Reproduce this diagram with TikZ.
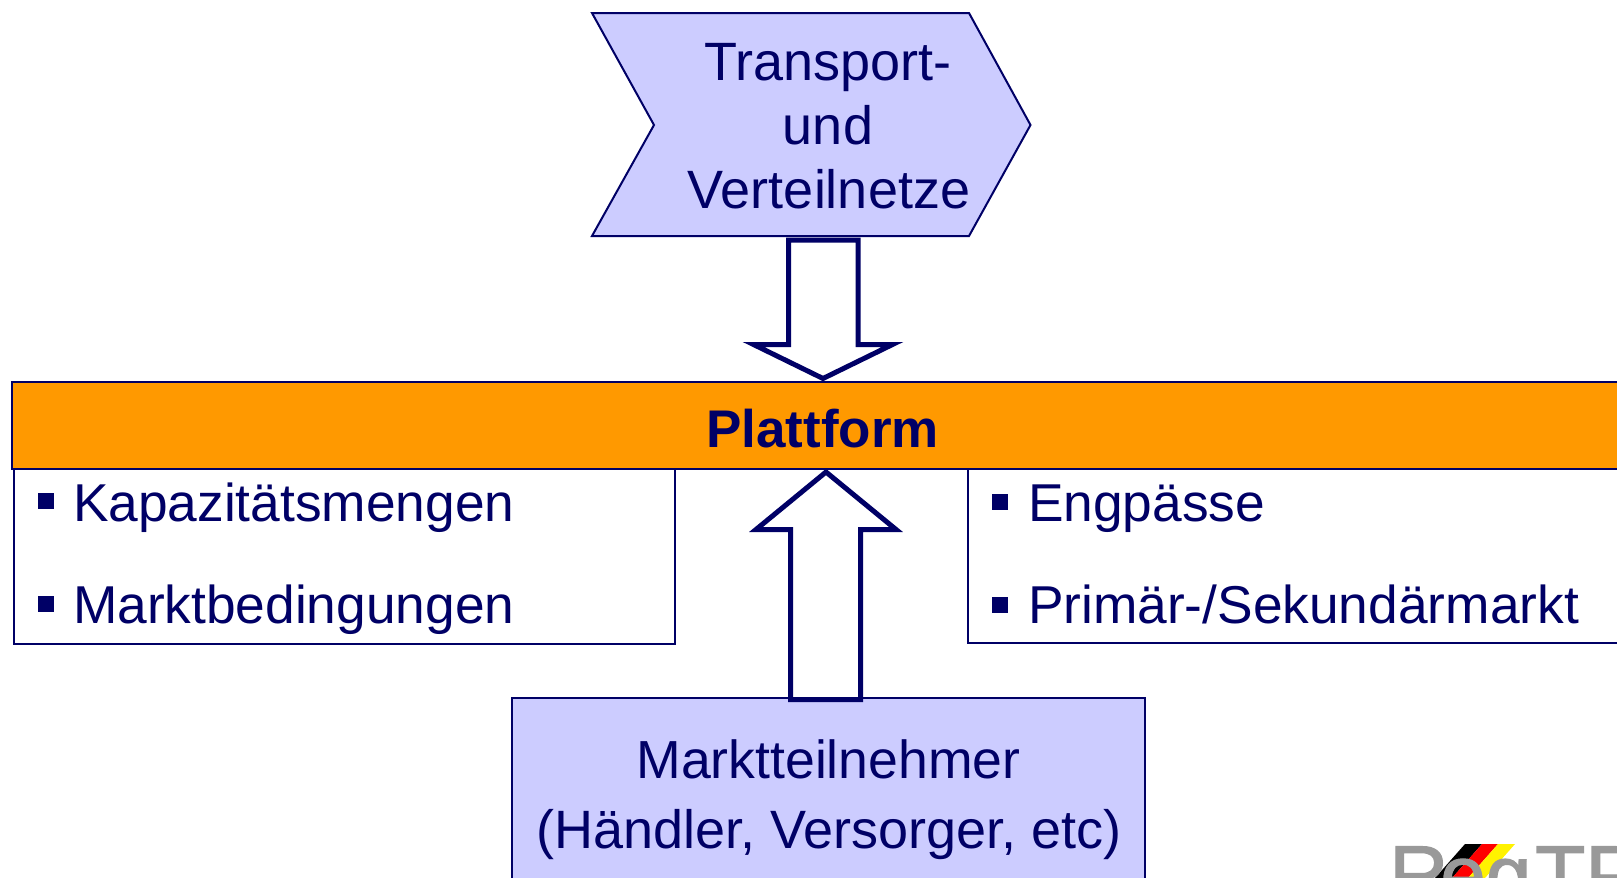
\documentclass[tikz,border=0pt]{standalone}
\usepackage{fontspec}
\setmainfont{Liberation Sans}
\newfontfamily\logofont[FakeBold=1.5]{Liberation Sans}
\definecolor{navyc}{HTML}{000066}
\definecolor{lilac}{HTML}{CCCCFF}
\definecolor{orangec}{HTML}{FF9900}
\definecolor{logogrey}{HTML}{999999}
\tikzset{
  thinbox/.style={draw=navyc,line width=2pt,line join=miter},
  blockarrow/.style={draw=navyc,fill=white,line width=5pt,line join=miter,miter limit=10},
  label/.style={anchor=base,text=navyc,font=\fontsize{54}{54}\selectfont,inner sep=0pt,outer sep=0pt},
  itemtext/.style={label,anchor=base west,font=\fontsize{53.3}{54}\selectfont},
  bulletsq/.style={fill=navyc,draw=none,minimum size=16pt,inner sep=0pt,outer sep=0pt,anchor=north west},
  logotext/.style={anchor=base west,text=logogrey,font=\logofont\fontsize{82}{82}\selectfont,inner sep=0pt}
}
\begin{document}
\begin{tikzpicture}[x=1pt,y=-1pt]
\clip (0,0) rectangle (1617,878);
% logo (cut off by the page)
\fill[black] (1465,844) -- (1482,844) -- (1452,878) -- (1435,878) -- cycle;
\fill[red] (1482,844) -- (1498,844) -- (1468,878) -- (1452,878) -- cycle;
\fill[yellow] (1498,844) -- (1515,844) -- (1485,878) -- (1468,878) -- cycle;
\node[logotext] (logoR) at (1389,903) {R};
\node[logotext] (logoEG) at (1440,903) {eg};
\node[logotext] (logoTP) at (1535,903) {TP};
% list boxes
\draw[thinbox,fill=white] (13.5,460) rectangle (674.5,643.5);
\draw[thinbox,fill=white] (967.5,460) rectangle (1640,642.5);
% chevron
\draw[thinbox,fill=lilac] (592,13) -- (969,13) -- (1030.5,125) -- (969,236) -- (592,236) -- (654,125) -- cycle;
\node[label] (t1) at (828,80) {Transport-};
\node[label] (t2) at (828,144) {und};
\node[label] (t3) at (829,208) {Verteilnetze};
% platform bar
\node[thinbox,fill=orangec,minimum width=1650pt,minimum height=87pt,anchor=north west,inner sep=0pt,outer sep=0pt] (bar) at (11.5,382) {};
\node[label,font=\bfseries\fontsize{53}{54}\selectfont] (plat) at (822.5,447) {Plattform};
% participants
\draw[thinbox,fill=lilac] (511.5,698) rectangle (1145,900);
\node[label,font=\fontsize{53.6}{54}\selectfont] (m1) at (828.5,778) {Marktteilnehmer};
\node[label] (m2) at (829,848) {(Händler, Versorger, etc)};
% block arrows
\draw[blockarrow] (788.5,240) -- (858,240) -- (858,344.5) -- (892.5,344.5) -- (823,378.5) -- (753.5,344.5) -- (788.5,344.5) -- cycle;
\draw[blockarrow] (790.5,699.5) -- (860.5,699.5) -- (860.5,529.5) -- (896,529.5) -- (826,472) -- (756,529.5) -- (790.5,529.5) -- cycle;
% list items
\node[bulletsq] (b1) at (38,493) {};
\node[itemtext] (i1) at (73,521) {Kapazitätsmengen};
\node[bulletsq] (b2) at (38,596) {};
\node[itemtext] (i2) at (73,623) {Marktbedingungen};
\node[bulletsq] (b3) at (992,494) {};
\node[itemtext] (i3) at (1028,521) {Engpässe};
\node[bulletsq] (b4) at (992,597) {};
\node[itemtext] (i4) at (1028,623) {Primär-/Sekundärmarkt};
\end{tikzpicture}
\end{document}
